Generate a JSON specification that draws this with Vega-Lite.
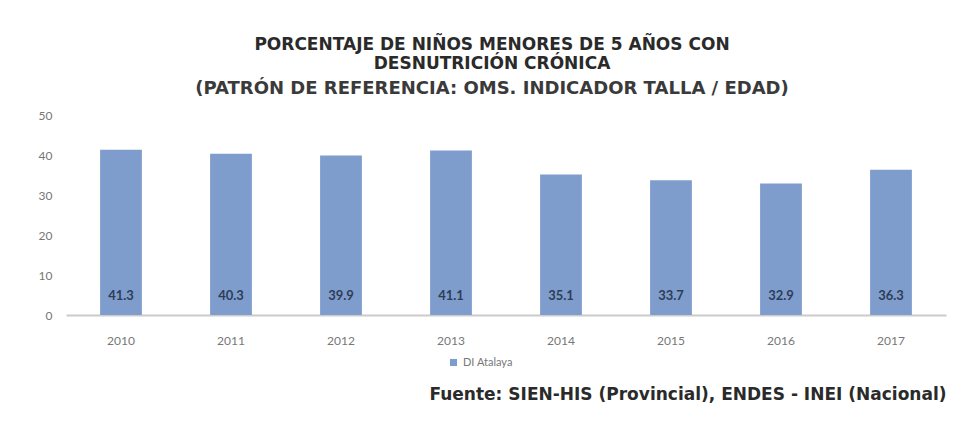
{
  "$schema": "https://vega.github.io/schema/vega-lite/v6.json",
  "autosize": {"type": "none"},
  "width": 880,
  "height": 200,
  "padding": {"left": 66, "top": 115, "right": 16, "bottom": 113},
  "background": "white",
  "config": {
    "view": {"stroke": null},
    "font": "Lato",
    "axisY": {
      "values": [0, 10, 20, 30, 40, 50],
      "labelOverlap": false,
      "grid": false,
      "domain": false,
      "ticks": false,
      "labelPadding": 14,
      "labelFontSize": 12,
      "labelColor": "#777777",
      "title": null
    }
  },
  "title": {
    "text": ["PORCENTAJE DE NIÑOS MENORES DE 5 AÑOS CON", "DESNUTRICIÓN CRÓNICA"],
    "subtitle": "(PATRÓN DE REFERENCIA: OMS. INDICADOR TALLA / EDAD)",
    "anchor": "middle",
    "dx": -14,
    "font": "DejaVu Sans",
    "fontSize": 17,
    "fontWeight": "bold",
    "color": "#2a2a2a",
    "lineHeight": 19,
    "subtitleFont": "DejaVu Sans",
    "subtitleFontSize": 18,
    "subtitleFontWeight": "bold",
    "subtitleColor": "#3a3a3a",
    "subtitlePadding": 7,
    "offset": 10
  },
  "data": {
    "values": [
      {"year": "2010", "value": 41.3, "serie": "DI Atalaya"},
      {"year": "2011", "value": 40.3, "serie": "DI Atalaya"},
      {"year": "2012", "value": 39.9, "serie": "DI Atalaya"},
      {"year": "2013", "value": 41.1, "serie": "DI Atalaya"},
      {"year": "2014", "value": 35.1, "serie": "DI Atalaya"},
      {"year": "2015", "value": 33.7, "serie": "DI Atalaya"},
      {"year": "2016", "value": 32.9, "serie": "DI Atalaya"},
      {"year": "2017", "value": 36.3, "serie": "DI Atalaya"}
    ]
  },
  "encoding": {
    "x": {
      "field": "year",
      "type": "nominal",
      "scale": {"paddingInner": 0.62, "paddingOuter": 0.31},
      "axis": {
        "labelAngle": 0,
        "labelFontSize": 12,
        "labelColor": "#777777",
        "labelPadding": 20,
        "ticks": false,
        "domainColor": "#cccccc",
        "domainWidth": 2,
        "title": "Fuente: SIEN-HIS (Provincial), ENDES - INEI (Nacional)",
        "titleFont": "DejaVu Sans",
        "titleFontSize": 17,
        "titleFontWeight": "bold",
        "titleColor": "#2a2a2a",
        "titleAnchor": "end",
        "titleAlign": "right",
        "titlePadding": 40
      }
    },
    "y": {
      "field": "value",
      "type": "quantitative",
      "scale": {"domain": [0, 50]}
    }
  },
  "layer": [
    {
      "mark": {"type": "bar", "color": "#7f9dcc"},
      "encoding": {
        "fill": {
          "field": "serie",
          "type": "nominal",
          "scale": {"range": ["#7f9dcc"]},
          "legend": {
            "title": null,
            "orient": "none",
            "legendX": 382,
            "legendY": 242,
            "symbolType": "square",
            "symbolSize": 50,
            "labelFontSize": 11,
            "labelColor": "#777777"
          }
        }
      }
    },
    {
      "mark": {"type": "text", "fontSize": 13, "fontWeight": "bold", "color": "#2e3d57", "baseline": "bottom", "dy": -12},
      "encoding": {
        "y": {"datum": 0, "type": "quantitative"},
        "text": {"field": "value", "type": "quantitative", "format": ".1f"}
      }
    }
  ]
}
